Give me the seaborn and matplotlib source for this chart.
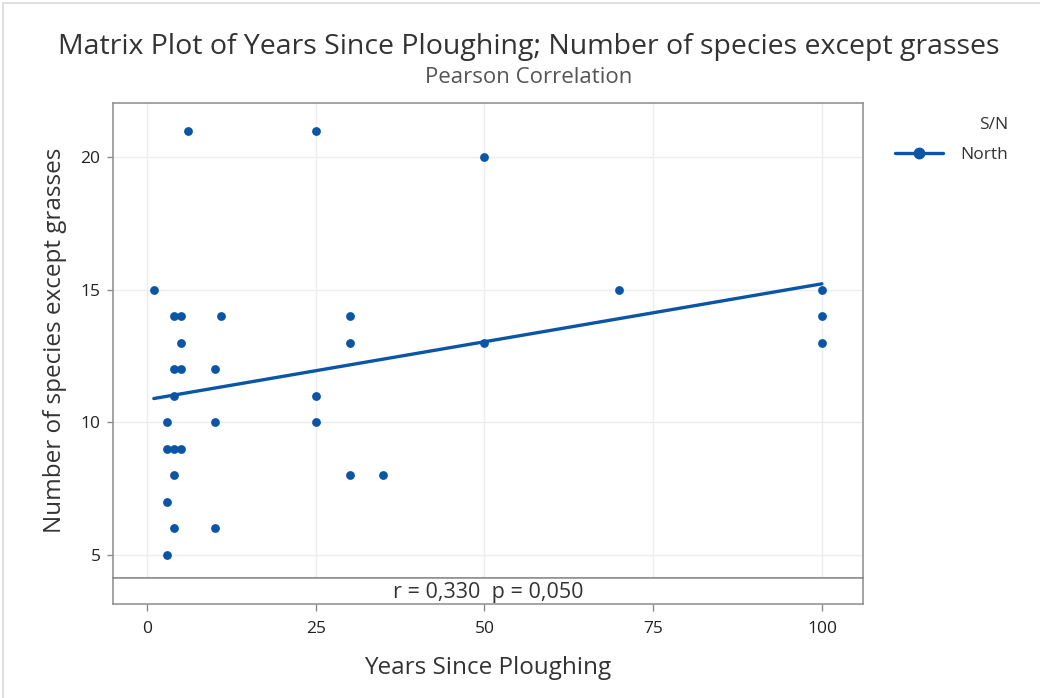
import numpy as np
import pandas as pd
import matplotlib
matplotlib.use("Agg")
import matplotlib.pyplot as plt
import seaborn as sns
from matplotlib.lines import Line2D
from matplotlib.patches import Rectangle

years = [1, 3, 3, 3, 3, 4, 4, 4, 4, 4, 4, 5, 5, 5, 5, 6, 10, 10, 10, 11,
         25, 25, 25, 30, 30, 30, 35, 50, 50, 70, 100, 100, 100]
species = [15, 10, 9, 7, 5, 14, 12, 11, 9, 8, 6, 14, 13, 12, 9, 21, 12, 10, 6, 14,
           21, 11, 10, 14, 13, 8, 8, 20, 13, 15, 15, 14, 13]
group = ["North"] * len(years)
xticks = [0, 25, 50, 75, 100]
yticks = [5, 10, 15, 20]
stat_text = "r = 0,330  p = 0,050"

df = pd.DataFrame({"Years Since Ploughing": years,
                   "Number of species except grasses": species,
                   "S/N": group})

sns.set_theme(style="white")
plt.rcParams["font.family"] = ["Open Sans", "DejaVu Sans"]

blue = "#0a55a6"
spine_c = "#8c8c8c"
grid_c = "#ededed"

fig = plt.figure(figsize=(10.4, 6.98), dpi=100)
fig.patches.append(Rectangle((0.003, -0.01), 1.2, 1.005, transform=fig.transFigure,
                             fill=False, edgecolor="#d9d9d9", linewidth=1.2))

ax = fig.add_axes([0.1087, 0.1719, 0.7212, 0.6805])
strip = fig.add_axes([0.1087, 0.1347, 0.7212, 0.0372], sharex=ax)

sns.regplot(data=df, x="Years Since Ploughing", y="Number of species except grasses",
            ax=ax, ci=None, color=blue,
            scatter_kws=dict(s=40, linewidths=0, alpha=1, zorder=3),
            line_kws=dict(linewidth=2.4, zorder=2))

ax.set_xlim(-5.04, 106.1)
ax.set_ylim(4.13, 22.04)
ax.set_yticks(yticks)
ax.set_xticks(xticks)
ax.grid(True, color=grid_c, linewidth=1)
ax.set_axisbelow(True)
ax.tick_params(axis="x", bottom=False, labelbottom=False)
ax.tick_params(axis="y", left=True, length=4, width=1, color=spine_c,
               labelsize=12.5, labelcolor="#222222", pad=5)
ax.set_xlabel("")
ax.set_ylabel("Number of species except grasses", fontsize=17.5, color="#333333", labelpad=10)
for s in ax.spines.values():
    s.set_color(spine_c)
    s.set_linewidth(1.1)

strip.set_yticks([])
strip.set_xticks(xticks)
strip.set_xticklabels([str(t) for t in xticks])
strip.tick_params(axis="x", bottom=True, length=5, width=1, color=spine_c,
                  labelsize=12.5, labelcolor="#222222", pad=7)
strip.text(0.5, 0.45, stat_text, transform=strip.transAxes, ha="center", va="center",
           fontsize=15.5, color="#333333")
strip.set_xlabel("Years Since Ploughing", fontsize=17.5, color="#333333", labelpad=14)
for s in strip.spines.values():
    s.set_color(spine_c)
    s.set_linewidth(1.1)

fig.text(0.5087, 0.932, "Matrix Plot of Years Since Ploughing; Number of species except grasses",
         ha="center", va="center", fontsize=20.5, color="#333333")
fig.text(0.5087, 0.889, "Pearson Correlation", ha="center", va="center",
         fontsize=16, color="#555555")

handle = Line2D([0], [0], color=blue, linewidth=2.4, marker="o", markersize=7.5)
leg = fig.legend([handle], ["North"], title="S/N", loc="upper left",
                 bbox_to_anchor=(0.846, 0.855), frameon=False, fontsize=12.5,
                 title_fontsize=12.5, handlelength=2.75, handletextpad=1.0,
                 alignment="right", labelspacing=0.8)
leg.get_title().set_color("#333333")
for t in leg.get_texts():
    t.set_color("#333333")

fig.savefig("out.png", dpi=100)
